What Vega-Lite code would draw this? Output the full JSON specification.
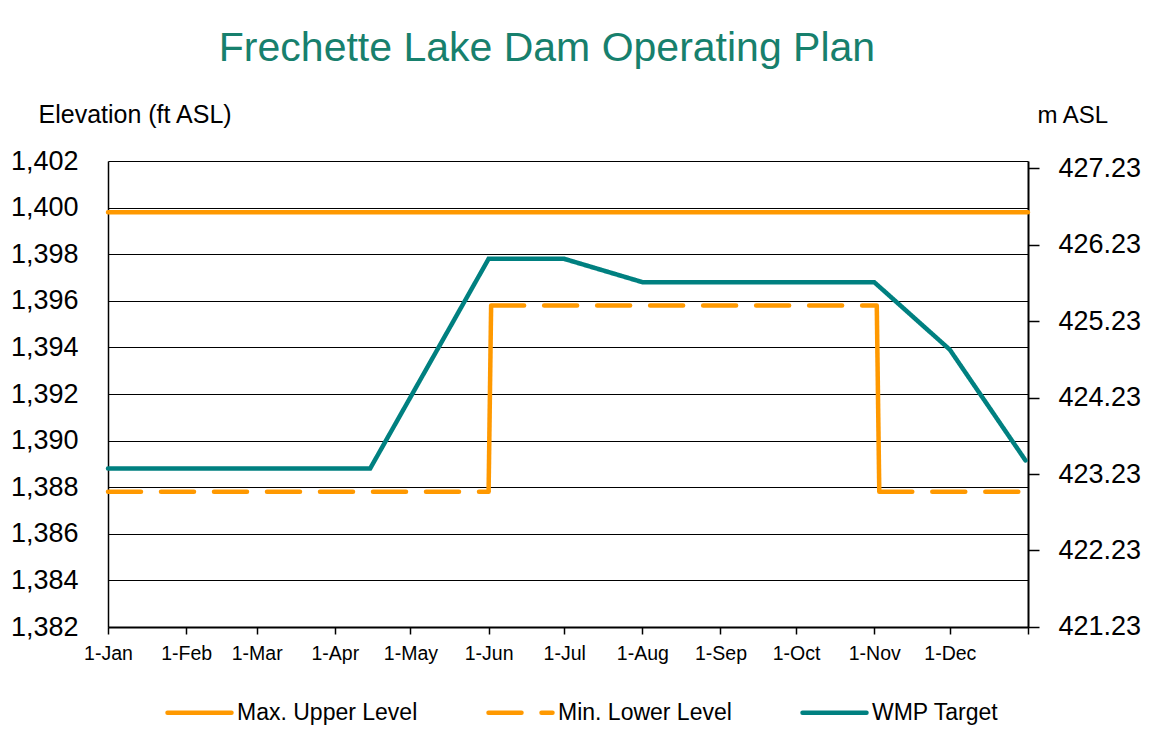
{
  "$schema": "https://vega.github.io/schema/vega-lite/v6.json",
  "width": 920,
  "height": 466,
  "autosize": {"type": "none"},
  "padding": {"left": 108, "top": 161, "right": 126, "bottom": 123},
  "background": "white",
  "config": {
    "font": "Liberation Sans",
    "view": {"stroke": null},
    "axis": {"labelColor": "black", "titleColor": "black", "titleFontWeight": "normal"}
  },
  "title": {
    "text": "Frechette Lake Dam Operating Plan",
    "font": "Liberation Sans",
    "fontSize": 41,
    "fontWeight": "normal",
    "color": "#17806D",
    "anchor": "middle",
    "frame": "group",
    "dx": -21,
    "offset": 32
  },
  "datasets": {
    "lines": [
      {"series": "Max. Upper Level", "seg": "max", "date": "2021-01-01", "value": 1399.8},
      {"series": "Max. Upper Level", "seg": "max", "date": "2022-01-01", "value": 1399.8},
      {"series": "Min. Lower Level", "seg": "min1", "date": "2021-01-01", "value": 1387.8},
      {"series": "Min. Lower Level", "seg": "min1", "date": "2021-06-01", "value": 1387.8},
      {"series": "Min. Lower Level", "seg": "min2", "date": "2021-06-02", "value": 1395.8},
      {"series": "Min. Lower Level", "seg": "min2", "date": "2021-11-02", "value": 1395.8},
      {"series": "Min. Lower Level", "seg": "min3", "date": "2021-11-03", "value": 1387.8},
      {"series": "Min. Lower Level", "seg": "min3", "date": "2021-12-31", "value": 1387.8},
      {"series": "WMP Target", "seg": "wmp", "date": "2021-01-01", "value": 1388.8},
      {"series": "WMP Target", "seg": "wmp", "date": "2021-04-15", "value": 1388.8},
      {"series": "WMP Target", "seg": "wmp", "date": "2021-06-01", "value": 1397.8},
      {"series": "WMP Target", "seg": "wmp", "date": "2021-07-01", "value": 1397.8},
      {"series": "WMP Target", "seg": "wmp", "date": "2021-08-01", "value": 1396.8},
      {"series": "WMP Target", "seg": "wmp", "date": "2021-11-01", "value": 1396.8},
      {"series": "WMP Target", "seg": "wmp", "date": "2021-12-01", "value": 1393.9},
      {"series": "WMP Target", "seg": "wmp", "date": "2021-12-31", "value": 1389.15}
    ],
    "steps": [
      {"seg": "s1", "date": "2021-06-01", "value": 1387.8},
      {"seg": "s1", "date": "2021-06-02", "value": 1395.8},
      {"seg": "s2", "date": "2021-11-02", "value": 1395.8},
      {"seg": "s2", "date": "2021-11-03", "value": 1387.8}
    ],
    "meters": [{"m": 421.23}, {"m": 427.23}]
  },
  "layer": [
    {
      "encoding": {
        "x": {
          "field": "date",
          "type": "temporal",
          "scale": {
            "type": "utc",
            "domain": [
              {"year": 2021, "month": 1, "date": 1, "utc": true},
              {"year": 2022, "month": 1, "date": 1, "utc": true}
            ],
            "nice": false
          },
          "axis": {
            "orient": "bottom",
            "title": null,
            "grid": false,
            "values": [
              {"year": 2021, "month": 1, "date": 1, "utc": true},
              {"year": 2021, "month": 2, "date": 1, "utc": true},
              {"year": 2021, "month": 3, "date": 1, "utc": true},
              {"year": 2021, "month": 4, "date": 1, "utc": true},
              {"year": 2021, "month": 5, "date": 1, "utc": true},
              {"year": 2021, "month": 6, "date": 1, "utc": true},
              {"year": 2021, "month": 7, "date": 1, "utc": true},
              {"year": 2021, "month": 8, "date": 1, "utc": true},
              {"year": 2021, "month": 9, "date": 1, "utc": true},
              {"year": 2021, "month": 10, "date": 1, "utc": true},
              {"year": 2021, "month": 11, "date": 1, "utc": true},
              {"year": 2021, "month": 12, "date": 1, "utc": true},
              {"year": 2022, "month": 1, "date": 1, "utc": true}
            ],
            "format": "%-d-%b",
            "labelExpr": "year(datum.value) == 2022 ? '' : datum.label",
            "labelFont": "Liberation Sans",
            "labelFontSize": 19.5,
            "labelPadding": 10,
            "labelFlush": false,
            "labelOverlap": false,
            "domainColor": "black",
            "domainWidth": 2,
            "tickColor": "black",
            "tickWidth": 1.5,
            "tickSize": 7
          }
        },
        "y": {
          "field": "value",
          "type": "quantitative",
          "scale": {"domain": [1382, 1402], "nice": false, "zero": false},
          "axis": {
            "orient": "left",
            "values": [1382, 1384, 1386, 1388, 1390, 1392, 1394, 1396, 1398, 1400, 1402],
            "format": ",d",
            "labelFontSize": 27,
            "labelPadding": 30,
            "ticks": false,
            "grid": true,
            "gridColor": "black",
            "gridWidth": 1,
            "domainColor": "black",
            "domainWidth": 1.5,
            "title": "Elevation (ft ASL)",
            "titleFontSize": 25,
            "titleAngle": 0,
            "titleAlign": "left",
            "titleBaseline": "alphabetic",
            "titleX": -70,
            "titleY": -39
          }
        }
      },
      "layer": [
        {
          "data": {"name": "lines"},
          "mark": {"type": "line", "strokeWidth": 4.5, "strokeCap": "round", "strokeJoin": "miter"},
          "encoding": {
            "detail": {"field": "seg"},
            "color": {
              "field": "series",
              "type": "nominal",
              "scale": {
                "domain": ["Max. Upper Level", "Min. Lower Level", "WMP Target"],
                "range": ["#FF9900", "#FF9900", "#008080"]
              },
              "legend": {
                "title": null,
                "orient": "none",
                "legendX": 57,
                "legendY": 517,
                "direction": "horizontal",
                "symbolType": "stroke",
                "symbolSize": 4096,
                "symbolStrokeWidth": 4.5,
                "labelFontSize": 23,
                "labelColor": "black",
                "labelOffset": 3,
                "labelLimit": 400,
                "columnPadding": 61,
                "padding": 0,
                "encode": {"symbols": {"update": {"strokeCap": {"value": "round"}}}}
              }
            },
            "strokeDash": {
              "field": "series",
              "type": "nominal",
              "scale": {
                "domain": ["Max. Upper Level", "Min. Lower Level", "WMP Target"],
                "range": [[1, 0], [33, 20], [1, 0]]
              },
              "legend": {
                "title": null,
                "orient": "none",
                "legendX": 57,
                "legendY": 517,
                "direction": "horizontal",
                "symbolType": "stroke",
                "symbolSize": 4096,
                "symbolStrokeWidth": 4.5,
                "labelFontSize": 23,
                "labelColor": "black",
                "labelOffset": 3,
                "labelLimit": 400,
                "columnPadding": 61,
                "padding": 0,
                "encode": {"symbols": {"update": {"strokeCap": {"value": "round"}}}}
              }
            }
          }
        },
        {
          "data": {"name": "steps"},
          "mark": {"type": "line", "strokeWidth": 4.5, "color": "#FF9900", "strokeCap": "butt"},
          "encoding": {"detail": {"field": "seg"}}
        }
      ]
    },
    {
      "data": {"name": "meters"},
      "mark": {"type": "rule", "opacity": 0},
      "encoding": {
        "y": {
          "field": "m",
          "type": "quantitative",
          "scale": {"domain": [421.229, 427.3256], "nice": false, "zero": false},
          "axis": {
            "orient": "right",
            "values": [421.23, 422.23, 423.23, 424.23, 425.23, 426.23, 427.23],
            "format": ".2f",
            "grid": false,
            "labelFontSize": 27,
            "labelPadding": 19,
            "labelOverlap": false,
            "labelFlush": false,
            "tickColor": "black",
            "tickWidth": 1.5,
            "tickSize": 11,
            "domainColor": "black",
            "domainWidth": 2,
            "title": "m ASL",
            "titleFontSize": 24,
            "titleAngle": 0,
            "titleAlign": "left",
            "titleBaseline": "alphabetic",
            "titleX": 9,
            "titleY": -39
          }
        }
      }
    }
  ],
  "resolve": {"scale": {"y": "independent"}, "axis": {"y": "independent"}}
}
